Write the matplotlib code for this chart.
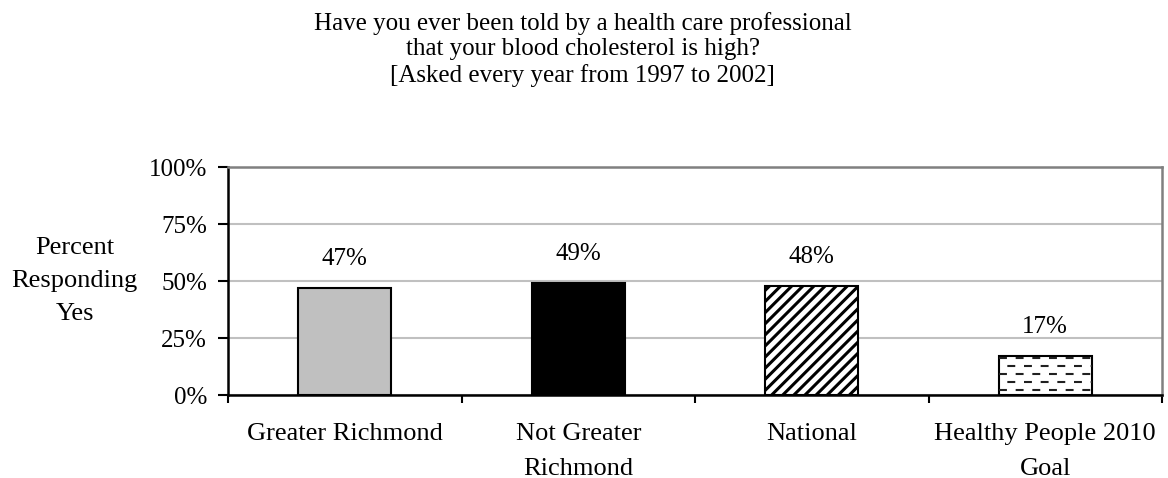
import matplotlib.pyplot as plt
import numpy as np
from matplotlib.lines import Line2D

plt.rcParams["font.family"] = ["Liberation Serif", "DejaVu Serif"]
plt.rcParams["hatch.linewidth"] = 2.2

# Survey results, percent responding yes
groups = ["Greater Richmond", "Not Greater\nRichmond", "National", "Healthy People 2010\nGoal"]
percents = [47, 49, 48, 17]
yticks = [0, 25, 50, 75, 100]

title = ("Have you ever been told by a health care professional\n"
         "that your blood cholesterol is high?\n"
         "[Asked every year from 1997 to 2002]")

FS = 18
LABEL_FS = 19


def main():
    fig = plt.figure(figsize=(11.68, 4.78), dpi=100)
    ax = fig.add_axes([0.1952, 0.1736, 0.7997, 0.477])

    x = np.arange(len(groups))
    bars = ax.bar(x, percents, width=0.40, edgecolor="black", linewidth=1.5, zorder=3)
    bars[0].set_facecolor("#c0c0c0")
    bars[1].set_facecolor("black")
    bars[2].set_facecolor("white")
    bars[2].set_hatch("///")
    bars[3].set_facecolor("white")

    # dashed fill for the goal bar, clipped to the bar outline
    goal = bars[3]
    gx0 = goal.get_x()
    gx1 = gx0 + goal.get_width()
    for i, yy in enumerate(np.arange(2.2, goal.get_height(), 3.5)):
        offset = 0 if i % 2 == 0 else 4.0
        ln = Line2D([gx0, gx1], [yy, yy], color="#202020", linewidth=1.5,
                    linestyle=(offset, (3.8, 4.2)), zorder=3.5)
        ax.add_line(ln)
        ln.set_clip_path(goal)

    for xi, v in zip(x, percents):
        ax.text(xi, v + 12.7, f"{v}%", ha="center", va="center", fontsize=FS)

    ax.set_xlim(-0.5, len(groups) - 0.5)
    ax.set_ylim(0, 100)
    ax.set_yticks(yticks)
    ax.set_yticklabels([f"{t}%" for t in yticks], fontsize=FS)
    ax.yaxis.grid(True, color="#c0c0c0", linewidth=1.5, zorder=0)
    ax.set_axisbelow(True)

    # category ticks sit on the boundaries between groups
    ax.set_xticks(np.arange(len(groups) + 1) - 0.5)
    ax.set_xticklabels([])
    ax.set_xticks(x, minor=True)
    ax.set_xticklabels(groups, minor=True, fontsize=LABEL_FS, va="top", linespacing=1.75)
    ax.tick_params(axis="x", which="minor", length=0, pad=20)
    ax.tick_params(axis="x", which="major", length=6, width=1.5, direction="out")
    ax.tick_params(axis="y", length=7, width=1.5, direction="out", pad=8)

    ax.spines["left"].set_linewidth(1.8)
    ax.spines["bottom"].set_linewidth(1.8)
    ax.spines["top"].set_color("#808080")
    ax.spines["right"].set_color("#808080")
    ax.spines["top"].set_linewidth(1.8)
    ax.spines["right"].set_linewidth(1.8)

    ax.set_ylabel("Percent\nResponding\nYes", rotation=0, fontsize=LABEL_FS,
                  ha="center", va="center", linespacing=1.66)
    ax.yaxis.set_label_coords(-0.164, 0.5)

    fig.text(0.499, 0.975, title, ha="center", va="top", fontsize=FS, linespacing=1.19)

    fig.savefig("out.png", dpi=100)
    plt.close(fig)


if __name__ == "__main__":
    main()
